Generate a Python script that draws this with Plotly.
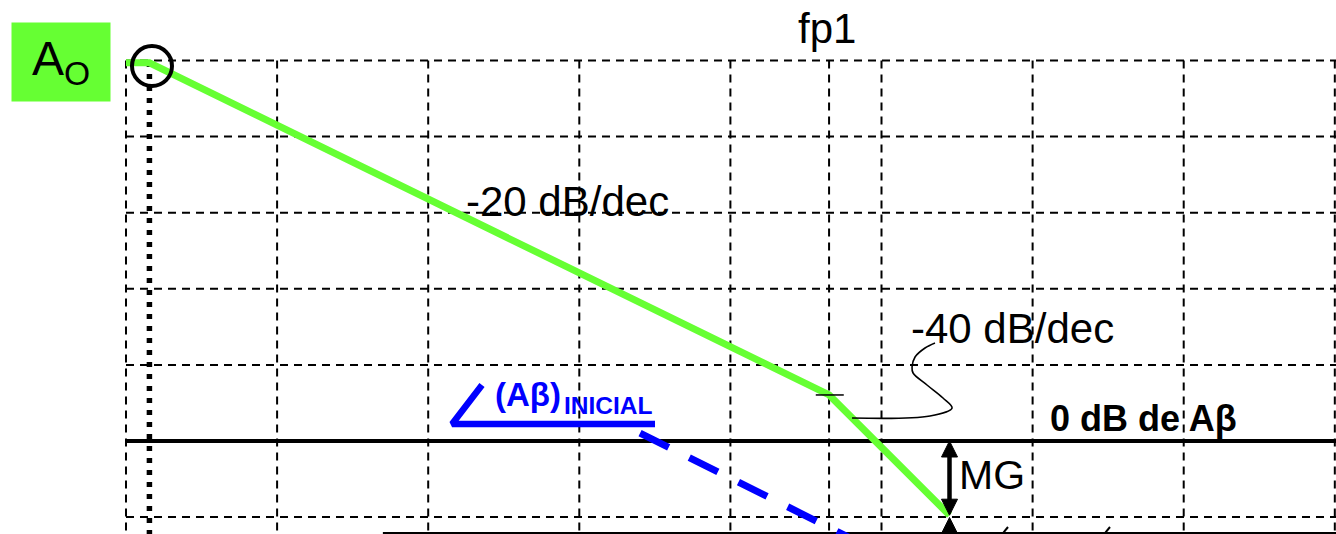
import plotly.graph_objects as go

# Bode magnitude sketch: open-loop gain A, loop gain (A·beta) and gain margin.
# x axis: log10(f) in decades, y axis: magnitude in dB.

GRID_DECADES = [0, 1, 2, 3, 4, 5, 6, 7, 8]
FP1_DECADE = 4.653
GRID_DB = [100, 80, 60, 40, 20, -20]
ZERO_DB = 0.0
FD_DECADE = 0.155

# open-loop gain asymptotes (A0, -20 dB/dec, -40 dB/dec after fp1)
GAIN_DECADE = [0.0, 0.155, 4.653, 5.45]
GAIN_DB = [99.4, 99.4, 12.1, -19.5]

# initial loop gain (A·beta): bracket mark and -20 dB/dec dashed asymptote
ABETA_MARK_DECADE = [2.356, 2.158, 3.501]
ABETA_MARK_DB = [14.7, 4.47, 4.47]
ABETA_DECADE = [3.402, 4.884]
ABETA_DB = [2.1, -27.3]

# gain margin
MG_DECADE = 5.45
MG_TOP_DB = 0.0
MG_BOTTOM_DB = -19.5

# leader from the -40 dB/dec label to the steeper segment
LEADER_DECADE = [4.805, 5.321, 5.467, 5.407, 5.301, 5.209, 5.202, 5.222, 5.288, 5.354]
LEADER_DB = [6.04, 6.57, 8.67, 11.30, 14.72, 17.87, 19.45, 22.08, 24.44, 25.76]

# short slanted strokes along the bottom edge
STROKE_DECADES = [5.804, 6.479]

# axes extents and pixel scale
X_RANGE = [-0.8339, 8.0079]
Y_RANGE = [-24.44, 115.90]
W, H = 1336, 534
PX_PER_DEC = W / (X_RANGE[1] - X_RANGE[0])
PX_PER_DB = H / (Y_RANGE[1] - Y_RANGE[0])

GREEN = "#66FF33"
BLUE = "#0000FF"
FONT = "Liberation Sans, Arial, sans-serif"

fig = go.Figure()

# dashed grid
for d in GRID_DECADES + [FP1_DECADE]:
    fig.add_trace(go.Scatter(x=[d, d], y=[GRID_DB[0], Y_RANGE[0] - 2], mode="lines",
                             line=dict(color="black", width=2, dash="8px,6px"),
                             hoverinfo="skip", showlegend=False))
for g in GRID_DB:
    fig.add_trace(go.Scatter(x=[GRID_DECADES[0], X_RANGE[1] + 0.1], y=[g, g], mode="lines",
                             line=dict(color="black", width=2, dash="8px,6px"),
                             hoverinfo="skip", showlegend=False))

# 0 dB of A·beta reference
fig.add_trace(go.Scatter(x=[GRID_DECADES[0], X_RANGE[1] + 0.1], y=[ZERO_DB, ZERO_DB], mode="lines",
                         line=dict(color="black", width=4), hoverinfo="skip", showlegend=False))
# lower reference line
fig.add_trace(go.Scatter(x=[1.70, X_RANGE[1] + 0.1], y=[-24.2, -24.2], mode="lines",
                         line=dict(color="black", width=2), hoverinfo="skip", showlegend=False))

# slanted strokes at the bottom edge
for s in STROKE_DECADES:
    fig.add_trace(go.Scatter(x=[s, s + 5 / PX_PER_DEC], y=[Y_RANGE[0] + 0.2, Y_RANGE[0] + 7 / PX_PER_DB],
                             mode="lines", line=dict(color="black", width=2),
                             hoverinfo="skip", showlegend=False))

# dominant pole marker (dotted)
fig.add_trace(go.Scatter(x=[FD_DECADE, FD_DECADE], y=[99.6, Y_RANGE[0] - 2], mode="lines",
                         line=dict(color="black", width=5.5, dash="5px,7px"),
                         hoverinfo="skip", showlegend=False))

# loop gain
fig.add_trace(go.Scatter(x=ABETA_DECADE, y=ABETA_DB, mode="lines",
                         line=dict(color=BLUE, width=7, dash="32px,23px"),
                         hoverinfo="skip", showlegend=False))
fig.add_trace(go.Scatter(x=ABETA_MARK_DECADE, y=ABETA_MARK_DB, mode="lines",
                         line=dict(color=BLUE, width=6.5), hoverinfo="skip", showlegend=False))

# open-loop gain
fig.add_trace(go.Scatter(x=GAIN_DECADE, y=GAIN_DB, mode="lines",
                         line=dict(color=GREEN, width=7), hoverinfo="skip", showlegend=False))

# tick at fp1 break
half_tick = 14 / PX_PER_DEC
fig.add_trace(go.Scatter(x=[FP1_DECADE - half_tick * 0.95, FP1_DECADE + half_tick * 1.05],
                         y=[GAIN_DB[2], GAIN_DB[2]], mode="lines",
                         line=dict(color="black", width=1.5), hoverinfo="skip", showlegend=False))

# leader curve
fig.add_trace(go.Scatter(x=LEADER_DECADE, y=LEADER_DB, mode="lines",
                         line=dict(color="black", width=1.6, shape="spline", smoothing=1.0),
                         hoverinfo="skip", showlegend=False))

# circle around A0 corner
fig.add_trace(go.Scatter(x=[0.172], y=[98.55], mode="markers",
                         marker=dict(symbol="circle-open", size=40, color="black",
                                     line=dict(width=4, color="black")),
                         hoverinfo="skip", showlegend=False))

# gain-margin arrow
head_w = 8 / PX_PER_DEC
head_l = 16 / PX_PER_DB


def arrow_head(tip_db, pointing_up):
    base = tip_db - head_l if pointing_up else tip_db + head_l
    return ([MG_DECADE - head_w, MG_DECADE + head_w, MG_DECADE, MG_DECADE - head_w],
            [base, base, tip_db, base])


fig.add_trace(go.Scatter(x=[MG_DECADE, MG_DECADE], y=[MG_TOP_DB - head_l * 0.5, MG_BOTTOM_DB + head_l * 0.5],
                         mode="lines", line=dict(color="black", width=4.5),
                         hoverinfo="skip", showlegend=False))
for tip, up in [(MG_TOP_DB, True), (MG_BOTTOM_DB, False), (MG_BOTTOM_DB - 0.6, True)]:
    hx, hy = arrow_head(tip, up)
    fig.add_trace(go.Scatter(x=hx, y=hy, mode="lines", fill="toself", fillcolor="black",
                             line=dict(color="black", width=1), hoverinfo="skip", showlegend=False))
fig.add_trace(go.Scatter(x=[MG_DECADE, MG_DECADE], y=[MG_BOTTOM_DB - 0.6 - head_l, Y_RANGE[0] - 2],
                         mode="lines", line=dict(color="black", width=4.5),
                         hoverinfo="skip", showlegend=False))

annotations = [
    dict(x=FP1_DECADE - 0.014, y=108.4, text="fp1", font=dict(size=42, color="black", family=FONT)),
    dict(x=2.919, y=62.9, text="-20 dB/dec", font=dict(size=42, color="black", family=FONT)),
    dict(x=5.864, y=29.6, text="-40 dB/dec", font=dict(size=42, color="black", family=FONT)),
    dict(x=5.731, y=-8.9, text="MG", font=dict(size=41, color="black", family=FONT)),
    dict(x=6.731, y=5.9, text="<b>0 dB de Aβ</b>", font=dict(size=36, color="black", family=FONT)),
    dict(x=2.66, y=12.35, text="<b>(Aβ)</b>", font=dict(size=33, color=BLUE, family=FONT)),
    dict(x=3.190, y=9.33, text="<b>INICIAL</b>", font=dict(size=24.5, color=BLUE, family=FONT)),
    dict(x=-0.430, y=99.6, text="A<sub>O</sub>", width=96, height=76, bgcolor=GREEN,
         font=dict(size=48, color="black", family=FONT), valign="middle"),
]
for a in annotations:
    a.update(xref="x", yref="y", showarrow=False, xanchor="center", yanchor="middle")

fig.update_layout(
    width=W, height=H,
    margin=dict(l=0, r=0, t=0, b=0),
    paper_bgcolor="white", plot_bgcolor="white",
    xaxis=dict(range=X_RANGE, visible=False, showgrid=False, zeroline=False, fixedrange=True),
    yaxis=dict(range=Y_RANGE, visible=False, showgrid=False, zeroline=False, fixedrange=True),
    annotations=annotations,
    showlegend=False,
)

fig.write_html("out.html")
